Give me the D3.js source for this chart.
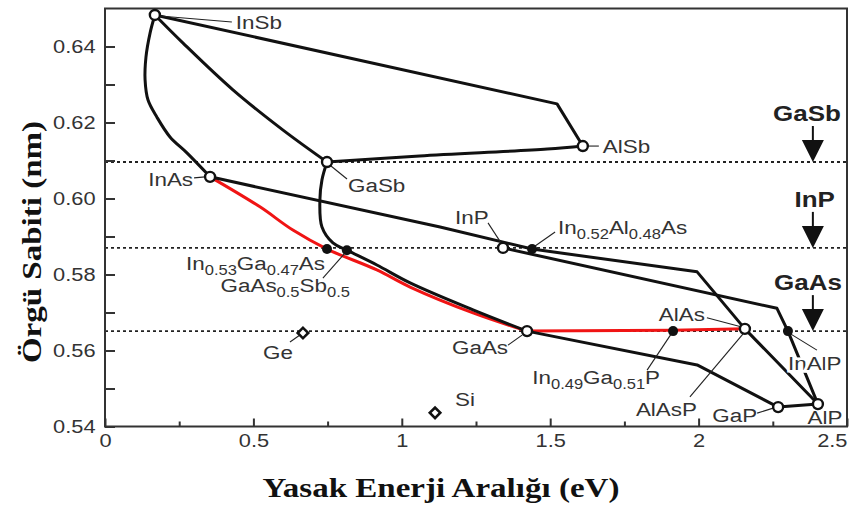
<!DOCTYPE html>
<html>
<head>
<meta charset="utf-8">
<script src="https://cdn.jsdelivr.net/npm/d3@7"></script>
<style>
  body { margin: 0; background: #fff; }
  text { font-family: "Liberation Sans", Arial, sans-serif; }
</style>
</head>
<body>
<svg id="chart" width="849" height="507"></svg>
<script>
// binary compounds (band gap eV, lattice constant nm)
var binNames = ["InSb", "AlSb", "GaSb", "InAs", "InP", "GaAs", "AlAs", "GaP", "AlP"];
var binGap = [0.168, 1.61, 0.748, 0.354, 1.341, 1.422, 2.156, 2.268, 2.402];
var binLat = [0.6483, 0.6138, 0.6096, 0.6057, 0.5870, 0.5651, 0.5657, 0.5451, 0.5459];

// lattice matched alloys
var alloyNames = ["In0.53Ga0.47As", "GaAs0.5Sb0.5", "In0.52Al0.48As", "In0.49Ga0.51P", "InAlP"];
var alloyGap = [0.748, 0.815, 1.439, 1.914, 2.301];
var alloyLat = [0.5867, 0.5864, 0.5867, 0.5651, 0.5651];

// elements
var elemNames = ["Ge", "Si"];
var elemGap = [0.667, 1.112];
var elemLat = [0.5646, 0.5436];

// substrates (dotted lines)
var refNames = ["GaSb", "InP", "GaAs"];
var refLat = [0.6096, 0.5870, 0.5651];

var xTicks = [0, 0.5, 1, 1.5, 2, 2.5];
var xMinor = [0.25, 0.75, 1.25, 1.75, 2.25];
var yTicks = [0.54, 0.56, 0.58, 0.60, 0.62, 0.64];
var yMinor = [0.55, 0.57, 0.59, 0.61, 0.63];

// ternary lines [gap, lattice]
var lineInSbAlSb = [[0.168, 0.6483], [1.523, 0.6249], [1.61, 0.6138]];
var lineGaSbAlSb = [[0.748, 0.6096], [1.06, 0.6112], [1.49, 0.6130], [1.61, 0.6138]];
var lineInSbGaSb = [[0.168, 0.6483], [0.263, 0.6409], [0.431, 0.6286], [0.600, 0.6180], [0.748, 0.6096]];
var lineInSbInAs = [[0.168, 0.6483], [0.152, 0.6436], [0.138, 0.6372], [0.135, 0.6313], [0.145, 0.6259],
                    [0.175, 0.6214], [0.219, 0.6162], [0.276, 0.6120], [0.354, 0.6057]];
var lineGaSbGaAs = [[0.748, 0.6096], [0.731, 0.6049], [0.724, 0.5996], [0.731, 0.5925], [0.768, 0.5883],
                    [0.815, 0.5864], [0.916, 0.5825], [1.028, 0.5778], [1.24, 0.5707], [1.422, 0.5651]];
var lineInAsGaAs = [[0.354, 0.6057], [0.522, 0.5978], [0.633, 0.5917], [0.748, 0.5867], [0.916, 0.5812],
                    [1.028, 0.5767], [1.24, 0.5699], [1.422, 0.5651]];
var lineInAsAlP = [[0.354, 0.6057], [1.129, 0.5925], [1.439, 0.5867], [1.995, 0.5807], [2.156, 0.5657], [2.402, 0.5459]];
var lineInPAlP = [[1.341, 0.5870], [2.264, 0.5711], [2.301, 0.5651], [2.402, 0.5459]];
var lineGaAsGaP = [[1.422, 0.5651], [1.995, 0.5562], [2.268, 0.5451]];
var lineGaPAlP = [[2.268, 0.5451], [2.402, 0.5459]];
var lineGaAsAlAs = [[1.422, 0.5651], [1.914, 0.5653], [2.156, 0.5657]];

var SX = 1.18; // glyphs in the original are a bit wide
var svg = d3.select("#chart");

var x = d3.scaleLinear().domain([0, 2.5]).range([105, 847]);
var y = d3.scaleLinear().domain([0.54, 0.65]).range([426.5, 8.5]);

var pts = {};
binNames.forEach(function (n, i) { pts[n] = [binGap[i], binLat[i]]; });
alloyNames.forEach(function (n, i) { pts[n] = [alloyGap[i], alloyLat[i]]; });
elemNames.forEach(function (n, i) { pts[n] = [elemGap[i], elemLat[i]]; });

//dotted substrate lines
svg.append("g").selectAll("line").data(refLat).enter().append("line")
    .attr("x1", x(0)).attr("x2", x(2.5))
    .attr("y1", function (d) { return y(d); })
    .attr("y2", function (d) { return y(d); })
    .attr("stroke", "#222").attr("stroke-width", 1.8)
    .attr("stroke-dasharray", "3,3");

//frame
svg.append("rect")
    .attr("x", x(0)).attr("y", y(0.65))
    .attr("width", x(2.5) - x(0)).attr("height", y(0.54) - y(0.65))
    .attr("fill", "none").attr("stroke", "#333").attr("stroke-width", 2);

//axes
function styleAxis(g) {
    g.select(".domain").remove();
    g.selectAll("line").attr("stroke", "#333").attr("stroke-width", 2);
    g.selectAll("text").attr("font-size", 18.5).attr("fill", "#333")
        .attr("transform", "scale(" + SX + ",1)");
}
var gx = svg.append("g").attr("transform", "translate(0," + y(0.54) + ")")
    .call(d3.axisBottom(x).tickValues(xTicks).tickSize(-8).tickPadding(7).tickFormat(d3.format("")))
    .call(styleAxis);
// last label sits inside the frame edge
gx.selectAll(".tick text").filter(function (d) { return d === 2.5; }).attr("text-anchor", "end");
svg.append("g").attr("transform", "translate(0," + y(0.54) + ")")
    .call(d3.axisBottom(x).tickValues(xMinor).tickSize(-5).tickFormat(""))
    .call(styleAxis);
svg.append("g").attr("transform", "translate(" + x(0) + ",0)")
    .call(d3.axisLeft(y).tickValues(yTicks).tickSize(-10).tickPadding(8).tickFormat(d3.format(".2f")))
    .call(styleAxis);
svg.append("g").attr("transform", "translate(" + x(0) + ",0)")
    .call(d3.axisLeft(y).tickValues(yMinor).tickSize(-10).tickFormat(""))
    .call(styleAxis);

//axis titles
svg.append("text")
    .attr("transform", "translate(441,497) scale(" + SX + ",1)")
    .attr("text-anchor", "middle")
    .style("font-family", "'Liberation Serif', 'Times New Roman', serif")
    .attr("font-weight", "bold").attr("font-size", 28).attr("fill", "#111")
    .text("Yasak Enerji Aralığı (eV)");
svg.append("text")
    .attr("transform", "translate(41,242) rotate(-90) scale(" + SX + ",1)")
    .attr("text-anchor", "middle")
    .style("font-family", "'Liberation Serif', 'Times New Roman', serif")
    .attr("font-weight", "bold").attr("font-size", 28).attr("fill", "#111")
    .text("Örgü Sabiti (nm)");

//lines
var smooth = d3.line().x(function (d) { return x(d[0]); }).y(function (d) { return y(d[1]); })
    .curve(d3.curveCatmullRom);
var straight = d3.line().x(function (d) { return x(d[0]); }).y(function (d) { return y(d[1]); });

function drawLine(data, gen, color) {
    svg.append("path").datum(data)
        .attr("fill", "none").attr("stroke", color).attr("stroke-width", 3)
        .attr("stroke-linejoin", "round").attr("stroke-linecap", "round")
        .attr("d", gen);
}
drawLine(lineInAsGaAs, smooth, "#f01414");
drawLine(lineGaAsAlAs, straight, "#f01414");
drawLine(lineInSbAlSb, straight, "#111");
drawLine(lineGaSbAlSb, smooth, "#111");
drawLine(lineInSbGaSb, smooth, "#111");
drawLine(lineInSbInAs, smooth, "#111");
drawLine(lineGaSbGaAs, smooth, "#111");
drawLine(lineInAsAlP, straight, "#111");
drawLine(lineInPAlP, straight, "#111");
drawLine(lineGaAsGaP, straight, "#111");
drawLine(lineGaPAlP, straight, "#111");

//substrate arrows
var arrowX = x(2.385);
var refLabelEnd = [28, 22, 29];
refLat.forEach(function (a, i) {
    var yl = y(a);
    svg.append("line").attr("x1", arrowX).attr("x2", arrowX)
        .attr("y1", yl - 36).attr("y2", yl - 20)
        .attr("stroke", "#111").attr("stroke-width", 2);
    svg.append("path")
        .attr("d", "M" + (arrowX - 11) + "," + (yl - 22) + "L" + (arrowX + 11) + "," + (yl - 22) + "L" + arrowX + "," + yl + "Z")
        .attr("fill", "#111");
    svg.append("text")
        .attr("transform", "translate(" + (arrowX + refLabelEnd[i]) + "," + (yl - 41) + ") scale(" + SX + ",1)")
        .attr("text-anchor", "end").attr("font-weight", "bold").attr("font-size", 22).attr("fill", "#222")
        .text(refNames[i]);
});

//pointers and labels
var labelLayout = [
    {t: "InSb", at: "InSb", dx: 81, dy: 8, a: "start", p: [5, 1, 77, 7]},
    {t: "AlSb", at: "AlSb", dx: 20, dy: 0, a: "start", p: [6, 0, 16, 0]},
    {t: "GaSb", at: "GaSb", dx: 21, dy: 23, a: "start", p: [4, 4, 20, 17]},
    {t: "InAs", at: "InAs", dx: -17, dy: 3, a: "end", p: [-16, 1, -5, 0]},
    {t: "InP", at: "InP", dx: -48, dy: -30, a: "start", p: [-15, -25, -2, -5]},
    {t: "In0.52Al0.48As", at: "In0.52Al0.48As", dx: 26, dy: -22, a: "start", p: [3, -3, 23, -17]},
    {t: "In0.53Ga0.47As", at: "In0.53Ga0.47As", dx: -2, dy: 14, a: "end", p: null},
    {t: "GaAs0.5Sb0.5", at: "GaAs0.5Sb0.5", dx: 3, dy: 35, a: "end", p: [-2, 3, -24, 28]},
    {t: "Ge", at: "Ge", dx: -40, dy: 19, a: "start", p: [-13, 9, -3, 2]},
    {t: "Si", at: "Si", dx: 20, dy: -13, a: "start", p: null},
    {t: "GaAs", at: "GaAs", dx: -19, dy: 16, a: "end", p: [-19, 14, -5, 4]},
    {t: "In0.49Ga0.51P", at: "In0.49Ga0.51P", dx: -13, dy: 46, a: "end", p: [-26, 39, -2, 3]},
    {t: "AlAs", at: "AlAs", dx: -40, dy: -14, a: "end", p: [-38, -11, -4, -2]},
    {t: "AlAsP", at: "AlAs", dx: -48, dy: 81, a: "end", p: [-1, 4, -55, 68]},
    {t: "GaP", at: "GaP", dx: -21, dy: 8, a: "end", p: [-21, 6, -5, 1]},
    {t: "AlP", at: "AlP", dx: 7, dy: 13, a: "middle", p: null},
    {t: "InAlP", at: "InAlP", dx: 0, dy: 32, a: "start", p: [3, 3, 29, 19], halo: true}
];

function addFormula(txt, str) {
    var parts = str.match(/[A-Z][a-z]?|\d+(?:\.\d+)?/g);
    var sub = false;
    parts.forEach(function (p) {
        var isNum = /^\d/.test(p);
        var ts = txt.append("tspan").text(p);
        if (isNum) {
            ts.attr("font-size", 14);
            if (!sub) { ts.attr("dy", 5); sub = true; }
        } else if (sub) {
            ts.attr("dy", -5);
            sub = false;
        }
    });
}

labelLayout.forEach(function (l) {
    var px = x(pts[l.at][0]), py = y(pts[l.at][1]);
    if (l.p) {
        svg.append("line")
            .attr("x1", px + l.p[0]).attr("y1", py + l.p[1])
            .attr("x2", px + l.p[2]).attr("y2", py + l.p[3])
            .attr("stroke", "#222").attr("stroke-width", 1.1);
    }
    var t = svg.append("text")
        .attr("transform", "translate(" + (px + l.dx) + "," + (py + l.dy + 6.5) + ") scale(" + SX + ",1)")
        .attr("text-anchor", l.a).attr("font-size", 19).attr("fill", "#333");
    if (l.halo) t.attr("stroke", "#fff").attr("stroke-width", 5).attr("paint-order", "stroke");
    addFormula(t, l.t);
});

//markers
svg.append("g").selectAll("circle").data(binNames).enter().append("circle")
    .attr("cx", function (d) { return x(pts[d][0]); })
    .attr("cy", function (d) { return y(pts[d][1]); })
    .attr("r", 5).attr("fill", "#fff").attr("stroke", "#111").attr("stroke-width", 2.4);
svg.append("g").selectAll("circle").data(alloyNames).enter().append("circle")
    .attr("cx", function (d) { return x(pts[d][0]); })
    .attr("cy", function (d) { return y(pts[d][1]); })
    .attr("r", 5).attr("fill", "#111");
svg.append("g").selectAll("path").data(elemNames).enter().append("path")
    .attr("transform", function (d) { return "translate(" + x(pts[d][0]) + "," + y(pts[d][1]) + ") rotate(45)"; })
    .attr("d", d3.symbol().type(d3.symbolSquare).size(55))
    .attr("fill", "#fff").attr("stroke", "#111").attr("stroke-width", 2.6);
</script>
</body>
</html>
